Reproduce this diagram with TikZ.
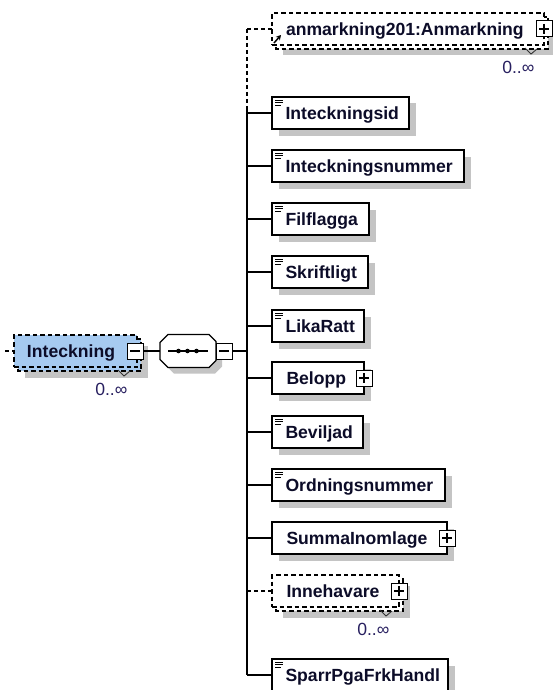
\documentclass[tikz,border=0pt]{standalone}
\usepackage{fontspec}
\setmainfont{Liberation Sans}
\usetikzlibrary{arrows.meta}
\pgfdeclarelayer{background}
\pgfsetlayers{background,main}
\definecolor{selblue}{RGB}{166,202,240}
\definecolor{shadowc}{RGB}{196,196,196}
\definecolor{txtc}{RGB}{12,12,40}
\definecolor{occc}{RGB}{40,32,96}
\newcommand\elfont{\fontsize{17.6pt}{20pt}\selectfont\bfseries}
\newcommand\occfont{\fontsize{17.6pt}{20pt}\selectfont}
\begin{document}
\begin{tikzpicture}[x=1pt,y=-1pt,line width=1.2pt,
  elem/.style={draw=black, fill=white, anchor=west, minimum height=32pt,
    inner xsep=0pt, inner ysep=0pt, outer sep=0pt, text height=13.5pt,
    text depth=0pt, align=left, font=\elfont, text=txtc, text width=#1},
  optelem/.style={elem=#1, dash pattern=on 4.5pt off 3pt},
  backlayer/.style={draw=black, line width=1.2pt, dash pattern=on 4.5pt off 3pt},
  conn/.style={draw=black, line width=1.2pt},
  optconn/.style={conn, dash pattern=on 4pt off 3pt},
  pmbox/.style={draw=black, fill=white, minimum size=16pt, inner sep=0pt,
    outer sep=0pt, line width=1pt},
  plusbox/.style={pmbox, path picture={
    \draw[line width=1.2pt] ([yshift=-3pt]path picture bounding box.north) -- ([yshift=3pt]path picture bounding box.south);
    \draw[line width=1.2pt] ([xshift=3pt]path picture bounding box.west) -- ([xshift=-3pt]path picture bounding box.east);}},
  minusbox/.style={pmbox, path picture={
    \draw[line width=1.2pt] ([xshift=3pt]path picture bounding box.west) -- ([xshift=-3pt]path picture bounding box.east);}},
  occ/.style={anchor=east, inner sep=0pt, font=\occfont, text=occc,
    text height=12.6pt, text depth=0pt},
  vmark/.style={draw=black!80, line width=0.9pt},
  docline/.style={draw=black, line width=0.9pt},
  seqbox/.style={minimum width=56pt, minimum height=33pt, inner sep=0pt, outer sep=0pt}
]
\useasboundingbox (0,0) rectangle (552,690);

% root element
\node[optelem=123pt, fill=selblue] (m0) at (14,351) {\hspace*{13pt}Inteckning};
\node[minusbox] (mm0) at ([xshift=-2pt]m0.east) {};
\node[occ] (o0) at ([shift={(-9,22)}]m0.south east) {0..∞};

% sequence compositor
\node[seqbox] (seq) at (188,351) {};
\draw[line width=1.2pt, fill=white]
  ([shift={(0,8)}]seq.north west) -- ([shift={(8,0)}]seq.north west) --
  ([shift={(-7,0)}]seq.north east) -- ([shift={(0,7)}]seq.north east) --
  ([shift={(0,-7)}]seq.south east) -- ([shift={(-7,0)}]seq.south east) --
  ([shift={(8,0)}]seq.south west) -- ([shift={(0,-8)}]seq.south west) -- cycle;
\draw[line width=1.2pt] ([xshift=-20pt]seq.center) -- ([xshift=20pt]seq.center);
\fill[black] ([xshift=-9.5pt]seq.center) circle (2.3pt);
\fill[black] ([xshift=-0.5pt]seq.center) circle (2.3pt);
\fill[black] ([xshift=8.5pt]seq.center) circle (2.3pt);
\node[minusbox] (smm) at ([xshift=8pt]seq.east) {};

% children
\node[optelem=272pt] (a1) at (272,29) {\hspace*{14pt}anmarkning201:Anmarkning};
\node[elem=137pt] (e1) at (272,113) {\hspace*{13.5pt}Inteckningsid};
\node[elem=192pt] (e2) at (272,166) {\hspace*{13.5pt}Inteckningsnummer};
\node[elem=97pt] (e3) at (272,219) {\hspace*{13.5pt}Filflagga};
\node[elem=96pt] (e4) at (272,272) {\hspace*{13.5pt}Skriftligt};
\node[elem=92pt] (e5) at (272,326) {\hspace*{13.5pt}LikaRatt};
\node[elem=92pt] (e6) at (272,378) {\hspace*{14.5pt}Belopp};
\node[elem=91pt] (e7) at (272,432) {\hspace*{13.5pt}Beviljad};
\node[elem=173pt] (e8) at (272,485) {\hspace*{13.5pt}Ordningsnummer};
\node[elem=175pt] (e9) at (272,538) {\hspace*{14.5pt}SummaInomlage};
\node[optelem=127pt] (e10) at (272,591) {\hspace*{14.5pt}Innehavare};
\node[elem=176pt] (e11) at (272,675) {\hspace*{13.5pt}SparrPgaFrkHandl};

\node[plusbox] (p1) at ([xshift=0pt]a1.east) {};
\node[plusbox] (p6) at (e6.east) {};
\node[plusbox] (p9) at (e9.east) {};
\node[plusbox] (p10) at (e10.east) {};

\node[occ] (o1) at ([shift={(-9,22)}]a1.south east) {0..∞};
\node[occ] (o10) at ([shift={(-9,22)}]e10.south east) {0..∞};

% V marks
\foreach \n in {a1,m0,e10}{
  \draw[vmark] ([shift={(-19,3)}]\n.south east) -- ([shift={(-13,9)}]\n.south east) -- ([shift={(-7,4)}]\n.south east);
}

% reference arrow
\draw[line width=1.5pt, -{Stealth[length=5pt,width=5.5pt]}] ([shift={(2,14)}]a1.west) -- ([shift={(9,6)}]a1.west);

% document icons
\foreach \n in {e1,e2,e3,e4,e5,e7,e8,e11}{
  \draw[docline] ([shift={(3,3)}]\n.north west) -- ++(8,0);
  \draw[docline] ([shift={(3,5.5)}]\n.north west) -- ++(8,0);
  \draw[docline] ([shift={(3,8)}]\n.north west) -- ++(6,0);
}

% connectors
\coordinate (inlet) at (5,351);
\coordinate (bustop) at (247,29);
\coordinate (busbreak) at (247,108);
\coordinate (busbot) at (247,675);
\draw[optconn] (inlet) -- (m0.west);
\draw[conn] (mm0.east) -- (seq.west);
\draw[conn] (smm.east) -- (smm.east -| bustop);
\draw[optconn] (bustop) -- (busbreak);
\draw[conn] (busbreak) -- (busbot);
\draw[optconn] (bustop) -- (a1.west);
\foreach \n in {e1,e2,e3,e4,e5,e6,e7,e8,e9,e11}{
  \draw[conn] (\n.west -| bustop) -- (\n.west);
}
\draw[optconn] (e10.west -| bustop) -- (e10.west);

% shadows and back layers
\begin{pgfonlayer}{background}
  \fill[white] (0,0) rectangle (552,690);
  \foreach \n in {e1,e2,e3,e4,e5,e6,e7,e8,e9,e11}{
    \fill[shadowc] ([shift={(6.5,6.5)}]\n.north west) rectangle ([shift={(6.5,6.5)}]\n.south east);
  }
  \foreach \n/\f in {a1/white,m0/selblue,e10/white}{
    \fill[shadowc] ([shift={(10.5,10.5)}]\n.north west) rectangle ([shift={(10.5,10.5)}]\n.south east);
    \draw[backlayer, fill=\f] ([shift={(4,4)}]\n.north west) rectangle ([shift={(4,4)}]\n.south east);
  }
  \fill[shadowc]
    ([shift={(6,14)}]seq.north west) -- ([shift={(14,6)}]seq.north west) --
    ([shift={(-1,6)}]seq.north east) -- ([shift={(6,13)}]seq.north east) --
    ([shift={(6,-1)}]seq.south east) -- ([shift={(-1,6)}]seq.south east) --
    ([shift={(14,6)}]seq.south west) -- ([shift={(6,-2)}]seq.south west) -- cycle;
\end{pgfonlayer}
\end{tikzpicture}
\end{document}
